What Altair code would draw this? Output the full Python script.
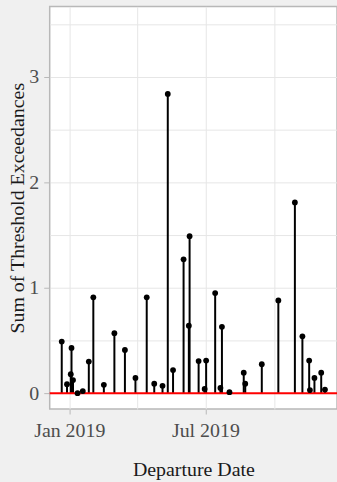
import altair as alt
import pandas as pd

dates = [
    "2018-12-22", "2018-12-29", "2019-01-03", "2019-01-04", "2019-01-06",
    "2019-01-12", "2019-01-19", "2019-01-27", "2019-02-02", "2019-02-16",
    "2019-03-02", "2019-03-16", "2019-03-30", "2019-04-14", "2019-04-24",
    "2019-05-05", "2019-05-12", "2019-05-19", "2019-06-02", "2019-06-09",
    "2019-06-10", "2019-06-22", "2019-06-30", "2019-07-02", "2019-07-14",
    "2019-07-21", "2019-07-23", "2019-08-02", "2019-08-21", "2019-08-23",
    "2019-09-14", "2019-10-06", "2019-10-28", "2019-11-07", "2019-11-16",
    "2019-11-17", "2019-11-23", "2019-12-02", "2019-12-07",
]
values = [
    0.49, 0.085, 0.18, 0.43, 0.125,
    0.0, 0.02, 0.30, 0.91, 0.08,
    0.57, 0.41, 0.145, 0.91, 0.09,
    0.07, 2.84, 0.22, 1.27, 0.64,
    1.49, 0.305, 0.04, 0.31, 0.95,
    0.05, 0.63, 0.01, 0.195, 0.09,
    0.275, 0.88, 1.81, 0.54, 0.31,
    0.03, 0.145, 0.195, 0.035,
]

df = pd.DataFrame({"date": dates, "value": values, "zero": [0.0] * len(values)})

FONT = "Liberation Serif"

x_ticks = [alt.DateTime(year=2019, month=m, date=1, utc=True) for m in (1, 4, 7, 10)]
y_ticks = [0, 0.5, 1, 1.5, 2, 2.5, 3, 3.5]

x_scale = alt.Scale(
    type="utc",
    domain=[alt.DateTime(year=2018, month=12, date=6, utc=True),
            alt.DateTime(year=2019, month=12, date=23, utc=True)],
)
y_scale = alt.Scale(domain=[-0.15, 3.67], nice=False, zero=False)

x_axis = alt.Axis(
    title="Departure Date",
    values=x_ticks,
    labelExpr="(utcmonth(datum.value) % 6 == 0) ? utcFormat(datum.value, '%b %Y') : ''",
    tickOpacity={"condition": {"test": "utcmonth(datum.value) % 6 != 0", "value": 0}, "value": 1},
    grid=True,
    domain=False,
    tickSize=5,
    labelPadding=7,
    titleY=67,
    titleBaseline="alphabetic",
)
y_axis = alt.Axis(
    title="Sum of Threshold Exceedances",
    values=y_ticks,
    labelExpr="(datum.value % 1 == 0) ? format(datum.value, 'd') : ''",
    tickOpacity={"condition": {"test": "datum.value % 1 != 0", "value": 0}, "value": 1},
    grid=True,
    domain=False,
    tickSize=6,
    labelPadding=5,
    titleX=-26,
    titleBaseline="alphabetic",
)

base = alt.Chart(df)

stems = base.mark_rule(color="black", strokeWidth=2).encode(
    x=alt.X("date:T", scale=x_scale, axis=x_axis),
    y=alt.Y("zero:Q", scale=y_scale, axis=y_axis),
    y2="value:Q",
)

zero_line = alt.Chart(pd.DataFrame({"y": [0.0]})).mark_rule(
    color="#ff0000", strokeWidth=2
).encode(y=alt.Y("y:Q", scale=y_scale))

points = base.mark_circle(color="black", size=34, opacity=1).encode(
    x=alt.X("date:T", scale=x_scale),
    y=alt.Y("value:Q", scale=y_scale),
)

chart = (
    alt.layer(stems, zero_line, points)
    .properties(
        width=289,
        height=405,
        autosize=alt.AutoSizeParams(type="none"),
        padding={"left": 50, "top": 5, "right": 0, "bottom": 80},
        background="#f0f0f0",
    )
    .configure_view(fill="white", stroke="#b8b8b8", strokeWidth=1.5)
    .configure_axis(
        labelFont=FONT,
        titleFont=FONT,
        labelFontSize=20,
        titleFontSize=20,
        titleFontWeight="normal",
        labelColor="#4d4d4d",
        titleColor="#1a1a1a",
        tickColor="#b8b8b8",
        gridColor="#e6e6e6",
        gridWidth=1,
    )
)

chart.save("out.html", embed_options={"renderer": "svg", "actions": False})
